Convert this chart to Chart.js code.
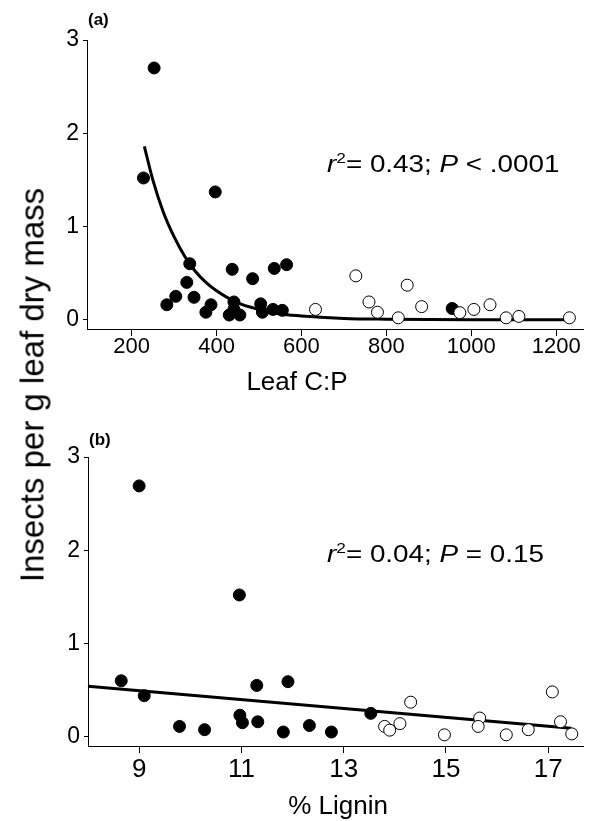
<!DOCTYPE html>
<html>
<head>
<meta charset="utf-8">
<script src="https://cdn.jsdelivr.net/npm/chart.js@4/dist/chart.umd.min.js"></script>
<style>
  body { margin: 0; background: #fff; }
  #wrap { position: relative; width: 597px; height: 821px; overflow: hidden; font-family: 'Liberation Sans', Arial, sans-serif; color: #000; }
  canvas { position: absolute; left: 0; }
  .txt { position: absolute; white-space: nowrap; line-height: 1; }
  .ytitle { left: 32px; top: 385px; font-size: 33px; transform: translate(-50%, -50%) rotate(-90deg); }
  .xtitle { font-size: 26px; transform: translateX(-50%); }
  .note { font-size: 24px; transform-origin: 0 0; transform: scaleX(1.16); }
  .note sup { font-size: 0.62em; vertical-align: 0.6em; line-height: 0; }
  .panel { font-size: 17px; font-weight: bold; }
</style>
</head>
<body>
<div id="wrap">
  <canvas id="chartA" width="597" height="410" style="top:0"></canvas>
  <canvas id="chartB" width="597" height="411" style="top:410px"></canvas>
  <div class="txt ytitle">Insects per g leaf dry mass</div>
  <div class="txt xtitle" style="left:297px; top:368px">Leaf C:P</div>
  <div class="txt xtitle" style="left:338px; top:792px">% Lignin</div>
  <div class="txt note" style="left:327px; top:152px"><i>r</i><sup>2</sup>= 0.43; <i>P</i> &lt; .0001</div>
  <div class="txt note" style="left:327px; top:542px"><i>r</i><sup>2</sup>= 0.04; <i>P</i> = 0.15</div>
  <div class="txt panel" style="left:88px; top:11px">(a)</div>
  <div class="txt panel" style="left:89px; top:431px">(b)</div>
</div>
<script>
// panel (a): leaf C:P
const cpFilledX = [253, 228, 397, 337, 330, 304, 283, 347, 387, 375, 437, 485, 536, 565, 441, 430, 455, 441, 504, 508, 533, 555, 955];
const cpFilledY = [2.70, 1.52, 1.37, 0.60, 0.40, 0.25, 0.16, 0.24, 0.16, 0.08, 0.54, 0.44, 0.55, 0.59, 0.19, 0.05, 0.05, 0.11, 0.17, 0.08, 0.11, 0.10, 0.12];
const cpOpenX = [633, 728, 759, 779, 828, 849, 883, 973, 1006, 1044, 1082, 1112, 1231];
const cpOpenY = [0.11, 0.47, 0.19, 0.08, 0.02, 0.37, 0.14, 0.075, 0.11, 0.16, 0.02, 0.035, 0.02];
const fitAX = [230, 250, 275, 300, 325, 350, 375, 400, 450, 500, 550, 600, 700, 800, 1000, 1230];
const fitAY = [1.86, 1.50, 1.15, 0.89, 0.68, 0.52, 0.40, 0.31, 0.18, 0.11, 0.06, 0.04, 0.013, 0.005, 0, 0];
const cpTicks = [200, 400, 600, 800, 1000, 1200];

// panel (b): % lignin
const ligFilledX = [9.00, 10.96, 8.65, 9.10, 9.79, 10.28, 10.97, 11.02, 11.30, 11.32, 11.91, 11.82, 12.33, 12.76, 13.53];
const ligFilledY = [2.69, 1.52, 0.60, 0.44, 0.11, 0.075, 0.23, 0.15, 0.55, 0.16, 0.59, 0.05, 0.12, 0.05, 0.25];
const ligOpenX = [13.80, 13.90, 14.10, 14.31, 14.97, 15.66, 15.63, 16.18, 16.61, 17.08, 17.24, 17.46];
const ligOpenY = [0.11, 0.07, 0.14, 0.37, 0.02, 0.20, 0.11, 0.02, 0.075, 0.48, 0.16, 0.03];
const fitBX = [8, 17.45];
const fitBY = [0.54, 0.09];
const ligTicks = [9, 11, 13, 15, 17];

const yTicks = [0, 1, 2, 3];

const FONT = "'Liberation Sans', Arial, sans-serif";

function pts(xs, ys) {
    return xs.map((x, i) => ({ x: x, y: ys[i] }));
}

function makeChart(id, cfg) {
    const ctx = document.getElementById(id).getContext('2d');
    return new Chart(ctx, {
        type: 'scatter',
        data: {
            datasets: [
                {
                    data: pts(cfg.filledX, cfg.filledY),
                    pointRadius: 6,
                    backgroundColor: '#000',
                    borderColor: '#000',
                    borderWidth: 1,
                    order: 1,
                    clip: false
                },
                {
                    data: pts(cfg.openX, cfg.openY),
                    pointRadius: 6,
                    backgroundColor: '#fff',
                    borderColor: '#000',
                    borderWidth: 1,
                    order: 0,
                    clip: false
                },
                {
                    data: pts(cfg.fitX, cfg.fitY),
                    showLine: true,
                    pointRadius: 0,
                    borderColor: '#000',
                    borderWidth: 3,
                    cubicInterpolationMode: 'monotone',
                    order: 2,
                    clip: false
                }
            ]
        },
        options: {
            responsive: false,
            animation: false,
            layout: { padding: { left: 0, right: 14, top: cfg.top, bottom: 0 } },
            plugins: { legend: { display: false }, tooltip: { enabled: false } },
            scales: {
                x: {
                    type: 'linear',
                    min: cfg.xMin,
                    max: cfg.xMax,
                    afterBuildTicks: s => { s.ticks = cfg.xTicks.map(v => ({ value: v })); },
                    afterFit: s => { s.height = cfg.xHeight; },
                    grid: { drawOnChartArea: false, drawTicks: true, tickLength: 7, tickColor: '#000', color: '#000' },
                    border: { display: true, color: '#000', width: 1 },
                    ticks: {
                        color: '#000',
                        font: { family: FONT, size: cfg.xFont },
                        padding: cfg.xPad,
                        maxRotation: 0,
                        callback: v => String(v)
                    }
                },
                y: {
                    type: 'linear',
                    min: -0.1,
                    max: 3,
                    afterBuildTicks: s => { s.ticks = yTicks.map(v => ({ value: v })); },
                    afterFit: s => { s.width = cfg.yWidth; },
                    grid: { drawOnChartArea: false, drawTicks: true, tickLength: 4, tickColor: '#000', color: '#000' },
                    border: { display: true, color: '#000', width: 1 },
                    ticks: { color: '#000', font: { family: FONT, size: 23 }, padding: 4, callback: v => String(v) }
                }
            }
        }
    });
}

makeChart('chartA', {
    filledX: cpFilledX, filledY: cpFilledY,
    openX: cpOpenX, openY: cpOpenY,
    fitX: fitAX, fitY: fitAY,
    xMin: 95, xMax: 1263, xTicks: cpTicks,
    top: 40, xHeight: 81, yWidth: 87, xFont: 22, xPad: -2
});

makeChart('chartB', {
    filledX: ligFilledX, filledY: ligFilledY,
    openX: ligOpenX, openY: ligOpenY,
    fitX: fitBX, fitY: fitBY,
    xMin: 8, xMax: 17.68, xTicks: ligTicks,
    top: 47, xHeight: 75, yWidth: 88, xFont: 26, xPad: 1
});
</script>
</body>
</html>
